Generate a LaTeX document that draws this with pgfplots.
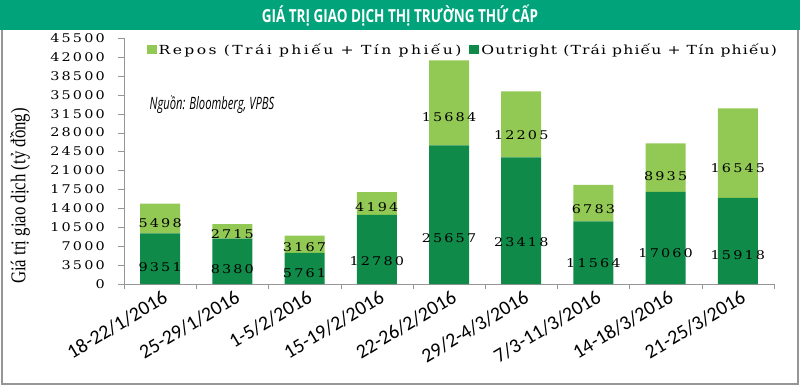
\documentclass[border=0pt]{standalone}
\usepackage{pgfplots}
\pgfplotsset{compat=1.18}
\usepackage{pgfplotstable}
\usepackage{fontspec}
\setmainfont{DejaVu Serif}
\newfontfamily\numfont[FakeStretch=1.2,LetterSpace=18]{DejaVu Serif}
\newfontfamily\legfont[FakeStretch=1.25,LetterSpace=9]{DejaVu Serif}
\newfontfamily\repfont[FakeStretch=1.25,LetterSpace=19]{DejaVu Serif}
\newfontfamily\ylabfont[FakeStretch=0.8]{Liberation Serif}
\newfontfamily\xlabfont{Carlito}
\newfontfamily\titlefont[FakeStretch=0.75]{Open Sans}
\newfontfamily\srcfont[FakeStretch=0.66]{Open Sans}
\definecolor{darkg}{RGB}{16,138,72}
\definecolor{lightg}{RGB}{146,200,84}
\definecolor{titleg}{RGB}{0,163,122}
\definecolor{framegray}{RGB}{150,150,150}
\tikzset{halfshift/.code={%
  \pgfkeys{/pgf/fpu=true,/pgf/fpu/output format=fixed}%
  \pgfmathparse{-0.0009011*\pgfplotspointmeta}%
  \global\let\hs\pgfmathresult
  \pgfkeys{/pgf/fpu=false}}}
\pgfplotstableread{
x out rep
0 9351 5498
1 8380 2715
2 5761 3167
3 12780 4194
4 25657 15684
5 23418 12205
6 11564 6783
7 17060 8935
8 15918 16545
}\datatable
\begin{document}
\begin{tikzpicture}[x=1pt,y=1pt]
\path[use as bounding box] (0pt,0pt) rectangle (800pt,389pt);
\fill[titleg] (0pt,359pt) rectangle (800pt,389pt);
\draw[framegray,line width=1.2pt] (2pt,359pt) -- (2pt,5pt) -- (798pt,5pt) -- (798pt,359pt);
\node[text=white,font={\titlefont\bfseries\fontsize{18}{20}\selectfont}] at (400pt,373pt) {GIÁ TRỊ GIAO DỊCH THỊ TRƯỜNG THỨ CẤP};
\begin{axis}[
  at={(124pt,105pt)}, anchor=south west,
  scale only axis, width=650pt, height=246pt,
  ybar stacked, bar width=40pt,
  xmin=-0.5, xmax=8.5, ymin=0, ymax=45500,
  axis x line*=bottom, axis y line*=left,
  axis line style={draw=framegray,-},
  tick align=outside,
  xtick={0,...,8},
  xticklabels={18-22/1/2016,25-29/1/2016,1-5/2/2016,15-19/2/2016,22-26/2/2016,29/2-4/3/2016,7/3-11/3/2016,14-18/3/2016,21-25/3/2016},
  major x tick style={draw=none},
  minor xtick={-0.5,0.5,...,8.5},
  minor x tick style={draw=framegray},
  minor tick length=5pt,
  xticklabel style={rotate=31, anchor=north east, inner sep=0pt, font={\xlabfont\fontsize{20}{21}\selectfont}, xshift=2pt, yshift=0pt},
  ytick={0,3500,...,45500},
  scaled y ticks=false,
  /pgf/number format/assume math mode=true,
  yticklabel={\pgfmathprintnumber[fixed,precision=0,1000 sep={}]{\tick}},
  yticklabel style={font={\numfont\fontsize{12}{13}\selectfont}, inner sep=0pt, xshift=-13pt},
  major y tick style={draw=framegray},
  major tick length=6pt,
  point meta=explicit symbolic,
  nodes near coords={\pgfplotspointmeta},
  every node near coord/.append style={anchor=center, font={\numfont\fontsize{12}{13}\selectfont}, text=black, halfshift, yshift=\hs pt},
  legend columns=2,
  reverse legend,
  legend style={at={(0.03,0.995)}, anchor=north west, draw=none, fill=none, font={\legfont\fontsize{12.5}{13}\selectfont}, /tikz/every even column/.append style={column sep=6pt}},
  legend image code/.code={\fill[#1] (0pt,-4.5pt) rectangle (10pt,4.5pt);},
  clip=false,
]
\addplot[fill=darkg, draw=none] table[x=x,y=out,meta=out] {\datatable};
\addlegendentry{Outright (Trái phiếu + Tín phiếu)}
\addplot[fill=lightg, draw=none] table[x=x,y=rep,meta=rep] {\datatable};
\addlegendentry{\repfont Repos (Trái phiếu + Tín phiếu)}
\end{axis}
\node[font={\srcfont\itshape\fontsize{17}{18}\selectfont}] at (212pt,284pt) {Nguồn: Bloomberg, VPBS};
\node[rotate=90,font={\ylabfont\fontsize{21}{22}\selectfont}] at (20pt,193pt) {Giá trị giao dịch (tỷ đồng)};
\end{tikzpicture}
\end{document}
